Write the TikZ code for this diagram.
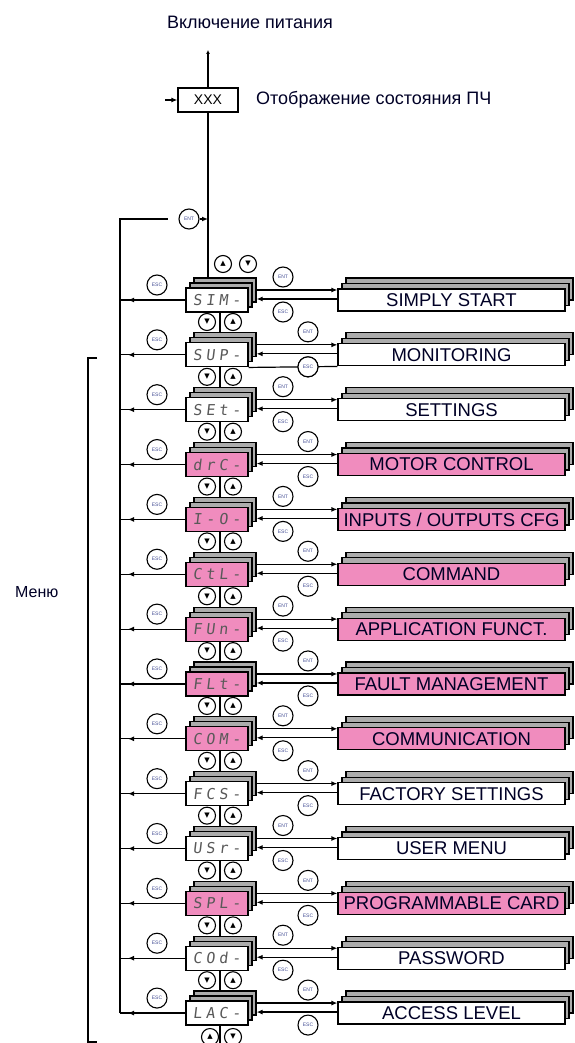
\documentclass[tikz,border=0pt]{standalone}
\usepackage{fontspec}
\setmainfont{Liberation Sans}
\newfontfamily\segfont[FakeSlant=0.12]{DejaVu Sans Mono}
\newfontfamily\symfont{DejaVu Sans}
\usetikzlibrary{arrows.meta,positioning,shadows,calc}
\definecolor{menupink}{RGB}{240,140,190}
\definecolor{keytext}{RGB}{70,80,150}
\newcommand\segtext[4]{\makebox[13pt]{#1}\makebox[13pt]{#2}%
  \makebox[13pt]{#3}\makebox[13pt]{#4}}
\tikzset{
  dispbox/.style  = {rectangle, draw=black, line width=1.2pt, fill=#1,
                     minimum width=62pt, minimum height=24pt, inner sep=0pt,
                     font=\segfont\fontsize{15}{15}\selectfont,
                     text=gray!70!black,
                     double copy shadow={shadow xshift=4pt, shadow yshift=5pt,
                                         fill=gray!65, draw=black,
                                         line width=1.2pt}},
  dispbox/.default= white,
  menubox/.style  = {rectangle, draw=black, line width=1.2pt, fill=#1,
                     minimum width=227pt, minimum height=22pt, inner sep=0pt,
                     font=\fontsize{18.5}{20}\selectfont, text=black!85!blue,
                     double copy shadow={shadow xshift=4pt, shadow yshift=5.5pt,
                                         fill=gray!65, draw=black,
                                         line width=1.2pt}},
  menubox/.default= white,
  keyc/.style     = {circle, draw=black, line width=1.1pt, fill=white,
                     minimum size=20pt, inner sep=0pt,
                     font=\fontsize{5}{5}\selectfont, text=keytext},
  arrowc/.style   = {circle, draw=black, line width=1.1pt, fill=white,
                     minimum size=17pt, inner sep=0pt,
                     font=\symfont\fontsize{7}{7}\selectfont},
  wire/.style     = {line width=1.2pt},
  myarrow/.style  = {wire, -{Latex[length=6pt,width=5pt]}},
  label/.style    = {font=\fontsize{18}{20}\selectfont, text=black!85!blue},
}

\begin{document}
\begin{tikzpicture}[x=1pt,y=-1pt]
  \useasboundingbox (0,0) rectangle (574,1043);

  %% ---- Power-up and status display ----
  \node[label] (pwr) at (250,22) {Включение питания};
  \node[rectangle, draw=black, line width=1.2pt, minimum width=60pt,
        minimum height=24pt, font=\fontsize{14}{15}\selectfont]
        (xxx) at (208,100) {XXX};
  \node[label, anchor=west, right=14pt of xxx] (state)
        {Отображение состояния ПЧ};
  \coordinate (top)  at (208,50);
  \coordinate (feed) at (165,100);
  \draw[wire, -{Latex[length=4pt,width=4pt]}] (xxx.north) -- (top);
  \draw[myarrow] (feed) -- (xxx.west);

  %% ---- Menu rows ----
  \foreach \i/\code/\name/\col/\cx in {
      1/{{S}{I}{M}{-}}/{SIMPLY START}/white/283,
      2/{{S}{U}{P}{-}}/{MONITORING}/white/308,
      3/{{S}{E}{t}{-}}/{SETTINGS}/white/283,
      4/{{d}{r}{C}{-}}/{MOTOR CONTROL}/menupink/308,
      5/{{I}{-}{O}{-}}/{INPUTS / OUTPUTS CFG}/menupink/283,
      6/{{C}{t}{L}{-}}/{COMMAND}/menupink/308,
      7/{{F}{U}{n}{-}}/{APPLICATION FUNCT.}/menupink/283,
      8/{{F}{L}{t}{-}}/{FAULT MANAGEMENT}/menupink/308,
      9/{{C}{O}{M}{-}}/{COMMUNICATION}/menupink/283,
      10/{{F}{C}{S}{-}}/{FACTORY SETTINGS}/white/308,
      11/{{U}{S}{r}{-}}/{USER MENU}/white/283,
      12/{{S}{P}{L}{-}}/{PROGRAMMABLE CARD}/menupink/308,
      13/{{C}{O}{d}{-}}/{PASSWORD}/white/283,
      14/{{L}{A}{C}{-}}/{ACCESS LEVEL}/white/308}{
    \pgfmathsetmacro\ry{300+(\i-1)*54.85}
    \node[dispbox=\col] (disp\i) at (217,\ry) {\expandafter\segtext\code};
    \node[menubox=\col] (menu\i) at (451.5,\ry) {\name};
    \coordinate (bus\i) at (120,\ry);
    % back to the bus
    \draw[wire] (disp\i.west) -- (bus\i);
    \draw[myarrow] (disp\i.west) -- ([xshift=8pt]bus\i);
    % ENT into the menu, ESC back
    \draw[myarrow] ([xshift=8pt,yshift=10pt]disp\i.east)
        -- ([yshift=10pt]menu\i.west);
    \draw[myarrow] ([yshift=1pt]menu\i.west)
        -- ([xshift=8pt,yshift=1pt]disp\i.east);
    \node[keyc] (lesc\i) at (157,\ry-15) {ESC};
    \node[keyc] (rent\i) at (\cx,\ry-23) {ENT};
    \node[keyc] (resc\i) at (\cx,\ry+12) {ESC};
  }

  %% ---- MONITORING extra return ----
  \draw[wire] (disp2.south east) -- (menu2.south west);
  \node[keyc] at (resc2) {ESC};

  %% ---- Up / down keys between rows ----
  \foreach \i [evaluate=\i as \j using int(\i+1)] in {1,...,13}{
    \draw[wire] ([xshift=3pt]disp\i.south)
        -- ([xshift=3pt,yshift=10pt]disp\j.north);
    \node[arrowc] (dn\i) at (207,{300+(\i-1)*54.85+22}) {▼};
    \node[arrowc] (up\i) at (233,{300+(\i-1)*54.85+22}) {▲};
  }
  \coordinate (tail) at (220,1043);
  \draw[wire] ([xshift=3pt]disp14.south) -- (tail);
  \node[arrowc] (upL) at (210,1037) {▲};
  \node[arrowc] (dnL) at (233,1037) {▼};
  \node[arrowc] (up0) at (223,264) {▲};
  \node[arrowc] (dn0) at (248,264) {▼};

  %% ---- Main trunk and ENT loop ----
  \draw[wire] (xxx.south) -- ([xshift=-9pt,yshift=10pt]disp1.north);
  \coordinate (busTop) at (120,219);
  \coordinate (join)   at (208,219);
  \node[keyc] (entTop) at (189,219) {ENT};
  \draw[wire] (bus14) -- (busTop) -- ([xshift=-10pt]entTop.west);
  \draw[myarrow] (entTop.east) -- (join);

  %% ---- Menu bracket ----
  \coordinate (brT) at (88,358);
  \coordinate (brB) at (88,1042);
  \draw[wire] ([xshift=9pt]brT) -- (brT) -- (brB) -- ([xshift=9pt]brB);
  \node[label, anchor=east, font=\fontsize{16}{18}\selectfont]
        (menu) at (62,592) {Меню};

\end{tikzpicture}
\end{document}
